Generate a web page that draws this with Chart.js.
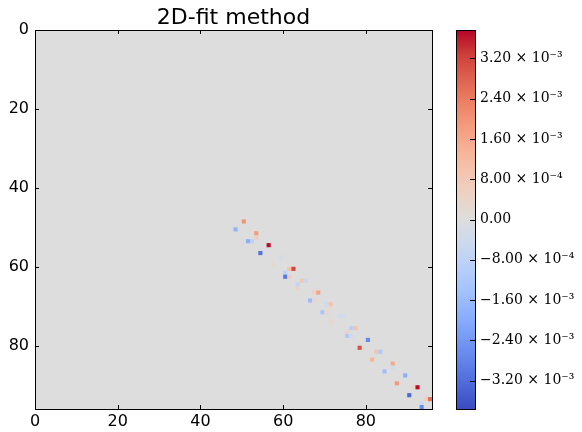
<!DOCTYPE html>
<html>
<head>
<meta charset="utf-8">
<script src="https://cdn.jsdelivr.net/npm/chart.js@4.4.1/dist/chart.umd.min.js"></script>
<style>
  html, body { margin: 0; padding: 0; background: #fff; }
  #wrap { position: relative; width: 582px; height: 432px; }
  #wrap canvas { position: absolute; left: 0; top: 0; }
</style>
</head>
<body>
<div id="wrap">
  <canvas id="heat" width="582" height="432"></canvas>
  <canvas id="cbar" width="582" height="432"></canvas>
</div>
<script>
const title = "2D-fit method";
const nCells = 96;
const xTicks = [0, 20, 40, 60, 80];
const yTicks = [0, 20, 40, 60, 80];

// non-zero cells of the 96x96 matrix (row, col, value in units of 1e-3)
const cellRows = [48, 50, 51, 52, 53, 53, 54, 56, 57, 59, 60, 60, 61, 62, 62, 63, 63, 64, 65, 66, 66, 68, 68,
  69, 69, 70, 71, 71, 72, 72, 73, 74, 75, 75, 76, 77, 77, 78, 80, 81, 81, 83, 84, 85, 86, 87, 89, 90, 90,
  92, 93, 93, 94, 95];
const cellCols = [50, 48, 53, 53, 51, 52, 56, 54, 59, 57, 61, 62, 60, 60, 61, 64, 65, 63, 63, 67, 68, 66, 67,
  70, 71, 71, 69, 70, 73, 74, 71, 71, 76, 77, 75, 75, 76, 80, 78, 82, 83, 81, 86, 86, 84, 89, 87, 91, 92,
  90, 94, 95, 93, 93];
const cellVals = [2.0, -1.8, 1.9, 0.6, -1.9, -0.9, 3.7, -3.1, -0.3, 0.3, 1.0, 3.2, -0.9, -3.0, 0.7, 0.9, -0.6,
  -0.7, 0.4, 0.5, 1.7, -1.6, 0.3, -0.4, 1.0, 0.3, -1.3, 0.3, -0.4, -0.4, 0.3, 0.3, -1.0, 1.0, 0.4, -1.2,
  -0.4, -2.7, 3.0, 0.9, -1.2, 1.3, 1.6, -0.4, -1.5, -1.9, 1.9, 0.4, 3.7, -3.3, 0.5, 2.6, -0.5, -2.6];

// colour limits and colorbar ticks
const vLim = 3.76e-3;
const cbTicks = [-3.2e-3, -2.4e-3, -1.6e-3, -8e-4, 0, 8e-4, 1.6e-3, 2.4e-3, 3.2e-3];
const cbLabels = ["\u22123.20 \u00d7 10\u207b\u00b3", "\u22122.40 \u00d7 10\u207b\u00b3", "\u22121.60 \u00d7 10\u207b\u00b3",
  "\u22128.00 \u00d7 10\u207b\u2074", "0.00", "8.00 \u00d7 10\u207b\u2074", "1.60 \u00d7 10\u207b\u00b3",
  "2.40 \u00d7 10\u207b\u00b3", "3.20 \u00d7 10\u207b\u00b3"];

// coolwarm colormap (Moreland), 17 stops
const cwStops = [
  [59, 76, 192], [77, 104, 215], [98, 130, 234], [119, 154, 247], [141, 176, 254], [163, 194, 255],
  [184, 208, 249], [204, 217, 238], [221, 221, 221], [236, 211, 197], [245, 196, 173], [247, 177, 148],
  [244, 154, 123], [236, 127, 99], [222, 96, 77], [203, 62, 56], [180, 4, 38]
];

function coolwarm(t) {
  t = Math.max(0, Math.min(1, t));
  const p = t * (cwStops.length - 1);
  const i = Math.min(Math.floor(p), cwStops.length - 2);
  const f = p - i;
  const a = cwStops[i], b = cwStops[i + 1];
  const c = a.map((v, k) => Math.round(v + (b[k] - v) * f));
  return `rgb(${c[0]},${c[1]},${c[2]})`;
}
const toColor = (v) => coolwarm((v + vLim) / (2 * vLim));

const tickFont = { family: "DejaVu Sans", size: 16 };
const TICK = 4;

// ---------------- HEATMAP ----------------
const heatFrame = {
  id: "heatFrame",
  beforeDatasetsDraw(chart) {
    const { ctx, chartArea: a } = chart;
    ctx.save();
    ctx.fillStyle = toColor(0);
    ctx.fillRect(a.left, a.top, a.right - a.left, a.bottom - a.top);
    ctx.restore();
  },
  afterDatasetsDraw(chart) {
    const { ctx, chartArea: a, scales } = chart;
    ctx.save();
    ctx.strokeStyle = "#000";
    ctx.lineWidth = 1;
    ctx.beginPath();
    scales.x.ticks.forEach((t) => {
      const px = Math.round(scales.x.getPixelForValue(t.value)) + 0.5;
      ctx.moveTo(px, a.top); ctx.lineTo(px, a.top + TICK);
      ctx.moveTo(px, a.bottom); ctx.lineTo(px, a.bottom - TICK);
    });
    scales.y.ticks.forEach((t) => {
      const py = Math.round(scales.y.getPixelForValue(t.value)) + 0.5;
      ctx.moveTo(a.left, py); ctx.lineTo(a.left + TICK, py);
      ctx.moveTo(a.right, py); ctx.lineTo(a.right - TICK, py);
    });
    ctx.stroke();
    ctx.strokeRect(Math.round(a.left) + 0.5, Math.round(a.top) + 0.5,
      Math.round(a.right - a.left), Math.round(a.bottom - a.top));
    ctx.restore();
  },
};

const cells = cellCols.map((c, i) => ({ x: c + 0.5, y: cellRows[i] + 0.5 }));

new Chart(document.getElementById("heat"), {
  type: "scatter",
  data: {
    datasets: [{
      data: cells,
      pointStyle: "rect",
      backgroundColor: cellVals.map((v) => toColor(v * 1e-3)),
      borderWidth: 0,
      pointRadius: (ctx) => {
        const s = ctx.chart.scales.x;
        return Math.abs(s.getPixelForValue(1) - s.getPixelForValue(0)) / Math.SQRT2;
      },
      pointHoverRadius: 0,
    }],
  },
  options: {
    responsive: false,
    animation: false,
    events: [],
    layout: { padding: { left: 0, right: 150, top: 0, bottom: 0 } },
    plugins: {
      legend: { display: false },
      tooltip: { enabled: false },
      title: {
        display: true,
        text: title,
        fullSize: false,
        color: "#000",
        font: { family: "DejaVu Sans", size: 22, weight: "normal", lineHeight: 1.0 },
        padding: { top: 7, bottom: 1 },
      },
    },
    scales: {
      x: {
        type: "linear",
        min: 0,
        max: nCells,
        grid: { display: false, drawTicks: false },
        border: { display: false },
        ticks: { font: tickFont, color: "#000", padding: 3, maxRotation: 0 },
        afterBuildTicks: (s) => { s.ticks = xTicks.map((v) => ({ value: v })); },
        afterFit: (s) => { s.height = 23; },
      },
      y: {
        type: "linear",
        reverse: true,
        min: 0,
        max: nCells,
        grid: { display: false, drawTicks: false },
        border: { display: false },
        ticks: { font: tickFont, color: "#000", padding: 6 },
        afterBuildTicks: (s) => { s.ticks = yTicks.map((v) => ({ value: v })); },
        afterFit: (s) => { s.width = 35; },
      },
    },
  },
  plugins: [heatFrame],
});

// ---------------- COLORBAR ----------------
const cbFrame = {
  id: "cbFrame",
  afterDatasetsDraw(chart) {
    const { ctx, chartArea: a, scales } = chart;
    ctx.save();
    ctx.strokeStyle = "#000";
    ctx.lineWidth = 1;
    ctx.beginPath();
    scales.y.ticks.forEach((t) => {
      const py = Math.round(scales.y.getPixelForValue(t.value)) + 0.5;
      ctx.moveTo(a.right, py); ctx.lineTo(a.right - TICK - 1, py);
    });
    ctx.stroke();
    ctx.strokeRect(Math.round(a.left) + 0.5, Math.round(a.top) + 0.5,
      Math.round(a.right - a.left), Math.round(a.bottom - a.top));
    ctx.restore();
  },
};

function cbGradient(ctx) {
  const chart = ctx.chart;
  if (!chart.chartArea) return toColor(0);
  const y = chart.scales.y;
  const g = chart.ctx.createLinearGradient(0, y.getPixelForValue(-vLim), 0, y.getPixelForValue(vLim));
  cwStops.forEach((_, i) => {
    const t = i / (cwStops.length - 1);
    g.addColorStop(t, coolwarm(t));
  });
  return g;
}

new Chart(document.getElementById("cbar"), {
  type: "bar",
  data: {
    labels: [""],
    datasets: [{
      data: [[-vLim, vLim]],
      backgroundColor: cbGradient,
      borderWidth: 0,
      barPercentage: 1,
      categoryPercentage: 1,
    }],
  },
  options: {
    responsive: false,
    animation: false,
    events: [],
    layout: { padding: { left: 456, right: 0, top: 30, bottom: 23 } },
    plugins: { legend: { display: false }, tooltip: { enabled: false } },
    scales: {
      x: { display: false },
      y: {
        position: "right",
        min: -vLim,
        max: vLim,
        grid: { display: false, drawTicks: false },
        border: { display: false },
        ticks: {
          font: { family: "DejaVu Serif", size: 14 },
          color: "#000",
          padding: 5,
          callback: (v) => cbLabels[cbTicks.indexOf(v)],
        },
        afterBuildTicks: (s) => { s.ticks = cbTicks.map((v) => ({ value: v })); },
        afterFit: (s) => { s.width = 582 - 475; },
      },
    },
  },
  plugins: [cbFrame],
});
</script>
</body>
</html>
